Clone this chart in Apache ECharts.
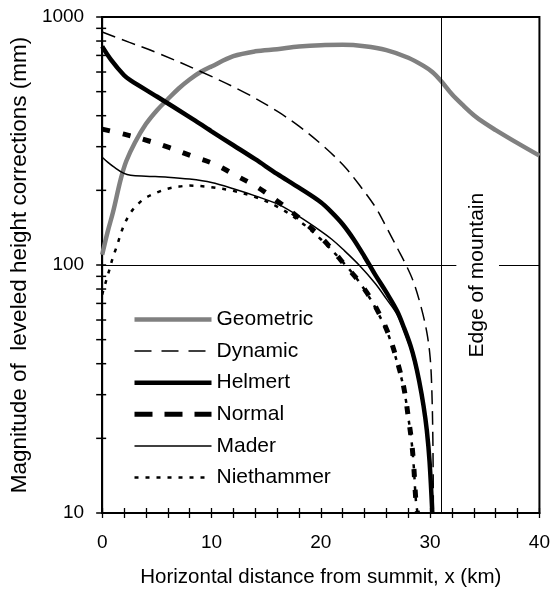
<!DOCTYPE html>
<html>
<head>
<meta charset="utf-8">
<script src="https://cdn.jsdelivr.net/npm/echarts@6/dist/echarts.min.js"></script>
<style>
  html, body { margin: 0; padding: 0; background: #fff; }
  #chart { width: 553px; height: 593px; }
</style>
</head>
<body>
<div id="chart"></div>
<script>
// values (x in km, y in mm)
const geoX = [0, 0.5, 1, 1.7, 2.2, 3, 4, 5, 6, 7, 8, 9, 10, 12, 14, 16, 18, 20, 22, 24, 26, 28, 29.4, 30.2, 31, 32, 33, 34, 35, 36, 38, 40];
const geoY = [110, 136, 164, 222, 262, 312, 370, 420, 466, 515, 560, 600, 632, 695, 727, 742, 760, 770, 772, 762, 735, 685, 635, 600, 552, 488, 441, 402, 373, 350, 310, 276];

const dynX = [0, 2.5, 5, 9, 13, 16, 18, 20, 22, 23.5, 25, 26, 27, 27.8, 28.5, 29.2, 29.7, 30, 30.15, 30.25, 30.3];
const dynY = [870, 790, 718, 603, 497, 417, 363, 308, 254, 211, 171, 142, 117, 100, 85, 67, 53.5, 42.5, 32, 20, 10];

const helX = [0, 0.8, 2, 2.6, 5, 8, 10, 12, 14, 16, 18, 20, 21, 22, 23, 24, 25, 26, 27, 27.6, 28.2, 28.6, 29, 29.4, 29.7, 29.95, 30.2];
const helY = [761, 673, 582, 555, 478, 395, 346, 304, 267, 233, 205, 179, 163, 146, 127, 108, 91, 77.5, 65, 56, 47.4, 41, 34, 27, 21.5, 16.1, 10];

const norX = [0, 2, 4.2, 6.1, 8.1, 10.2, 12.2, 14.2, 16.1, 18, 19.8, 21, 22.2, 23.3, 24.2, 25, 26.2, 27.3, 27.7, 28, 28.3, 28.5, 28.7, 28.85];
const norY = [353, 337, 317, 298, 276, 256, 230, 206, 180, 155, 132, 116, 100, 88, 77.6, 68, 52.5, 36.5, 30.2, 24.4, 19.5, 15.5, 11.2, 10];

const madX = [0, 0.5, 1.1, 2, 2.6, 4, 6, 8, 10, 12, 14, 16.3, 18, 20, 21, 22, 23.5, 25, 26, 27, 27.6, 28.2, 28.6, 29, 29.4, 29.7, 29.95, 30.15];
const madY = [272, 260, 248, 234, 230, 228, 226, 222, 215, 203, 190, 174, 157, 137, 127, 116, 100, 84, 73, 63, 54.5, 46, 39.5, 33, 26, 20.5, 15, 10];

const nieX = [0, 0.35, 0.67, 0.97, 1.34, 1.64, 2, 2.5, 3, 3.85, 5, 6, 7, 8, 9, 10, 12, 14, 16, 18, 20, 22, 23.3, 24.2, 25, 26.2, 27.3, 27.7, 28, 28.3, 28.5, 28.7, 28.85];
const nieY = [76, 86, 96, 107, 119, 131, 145, 160, 171, 185, 196, 203, 207, 209, 208, 206, 199, 188, 172, 151, 127, 103, 88, 77, 67, 52, 36, 30, 24.4, 19.5, 15.5, 11.2, 10];

const yTickVals = [10, 20, 30, 40, 50, 60, 70, 80, 90, 100, 200, 300, 400, 500, 600, 700, 800, 900, 1000];
const edgeX = 31;

const pairs = (xs, ys) => xs.map((x, i) => [x, ys[i]]);

const font = 'Liberation Sans, Arial, sans-serif';
const chart = echarts.init(document.getElementById('chart'));

// name, x, y, colour, width, dash
const styles = [
    ['Geometric', geoX, geoY, '#808080', 4.5, 'solid'],
    ['Dynamic', dynX, dynY, '#000', 1.5, [14, 7]],
    ['Helmert', helX, helY, '#000', 4.5, 'solid'],
    ['Normal', norX, norY, '#000', 5, [8, 13]],
    ['Mader', madX, madY, '#000', 1.5, 'solid'],
    ['Niethammer', nieX, nieY, '#000', 2.5, [4, 7]]
];

const series = styles.map(s => ({
    name: s[0],
    type: 'line',
    data: pairs(s[1], s[2]),
    symbol: 'none',
    smooth: 0.35,
    lineStyle: { color: s[3], width: s[4], type: s[5] },
    itemStyle: { color: s[3] },
    silent: true
}));

const legendData = styles.map(s => ({
    name: s[0],
    itemStyle: { color: 'rgba(0,0,0,0)', borderColor: 'rgba(0,0,0,0)', borderWidth: 0 },
    lineStyle: { color: s[3], width: s[4], type: s[0] === 'Normal' ? [18, 12] : (s[0] === 'Dynamic' ? [17, 10] : s[5]) }
}));

// reference lines: edge of mountain, and the 100 mm line broken by the label
series[0].markLine = {
    silent: true,
    symbol: 'none',
    label: { show: false },
    lineStyle: { color: '#000', width: 1, type: 'solid' },
    data: [
        { xAxis: edgeX },
        [{ coord: [0, 100] }, { coord: [32.4, 100] }],
        [{ coord: [36.3, 100] }, { coord: [40, 100] }]
    ]
};
series[0].markPoint = {
    silent: true,
    symbol: 'circle',
    symbolSize: 1,
    itemStyle: { color: 'rgba(0,0,0,0)' },
    label: {
        show: true,
        position: 'inside',
        rotate: 90,
        formatter: 'Edge of mountain',
        color: '#000',
        fontSize: 21,
        fontFamily: font
    },
    data: [{ coord: [34.3, 91] }]
};

// y ticks (major and minor) crossing the log axis
series.push({
    name: 'ticks',
    type: 'custom',
    coordinateSystem: 'cartesian2d',
    data: yTickVals.map(v => [0, v]),
    clip: false,
    silent: true,
    z: 10,
    renderItem: function (params, api) {
        const p = api.coord([api.value(0), api.value(1)]);
        return {
            type: 'line',
            shape: { x1: p[0] - 6, y1: p[1], x2: p[0] + 4, y2: p[1] },
            style: { stroke: '#000', lineWidth: 1.5 }
        };
    }
});

const option = {
    animation: false,
    textStyle: { fontFamily: font, color: '#000' },
    grid: {
        left: 101, right: 13, top: 17, bottom: 76,
        show: true, borderColor: '#000', borderWidth: 2
    },
    legend: {
        data: legendData,
        orient: 'vertical',
        left: 127,
        top: 304,
        itemWidth: 77,
        itemHeight: 14,
        itemGap: 10.6,
        selectedMode: false,
        textStyle: { fontSize: 21, color: '#000', fontFamily: font, lineHeight: 20 }
    },
    xAxis: [
        {
            type: 'value', position: 'bottom', min: 0, max: 40, interval: 10,
            name: 'Horizontal distance from summit, x (km)',
            nameLocation: 'middle', nameGap: 54,
            nameTextStyle: { fontSize: 20.5, color: '#000' },
            axisLine: { onZero: false, lineStyle: { color: '#000', width: 2 } },
            axisTick: { show: true, length: 5, lineStyle: { color: '#000', width: 1.3 } },
            minorTick: { show: true, splitNumber: 5, length: 5, lineStyle: { color: '#000', width: 1.3 } },
            axisLabel: { fontSize: 19, color: '#000', margin: 20 },
            splitLine: { show: false }
        },
        {
            type: 'value', position: 'bottom', min: 0, max: 40, interval: 10,
            axisLine: { show: false, onZero: false },
            axisTick: { show: true, inside: true, length: 5, lineStyle: { color: '#000', width: 1.3 } },
            minorTick: { show: true, splitNumber: 5, length: 5, lineStyle: { color: '#000', width: 1.3 } },
            axisLabel: { show: false },
            splitLine: { show: false }
        }
    ],
    yAxis: {
        type: 'log', logBase: 10, min: 10, max: 1000,
        name: 'Magnitude of  leveled height corrections (mm)',
        nameLocation: 'middle', nameGap: 63,
        nameTextStyle: { fontSize: 22.5, color: '#000' },
        axisLine: { onZero: false, lineStyle: { color: '#000', width: 2 } },
        axisTick: { show: false },
        axisLabel: { fontSize: 19, color: '#000', margin: 18, formatter: v => String(v) },
        splitLine: { show: false }
    },
    series: series
};

chart.setOption(option);
</script>
</body>
</html>
